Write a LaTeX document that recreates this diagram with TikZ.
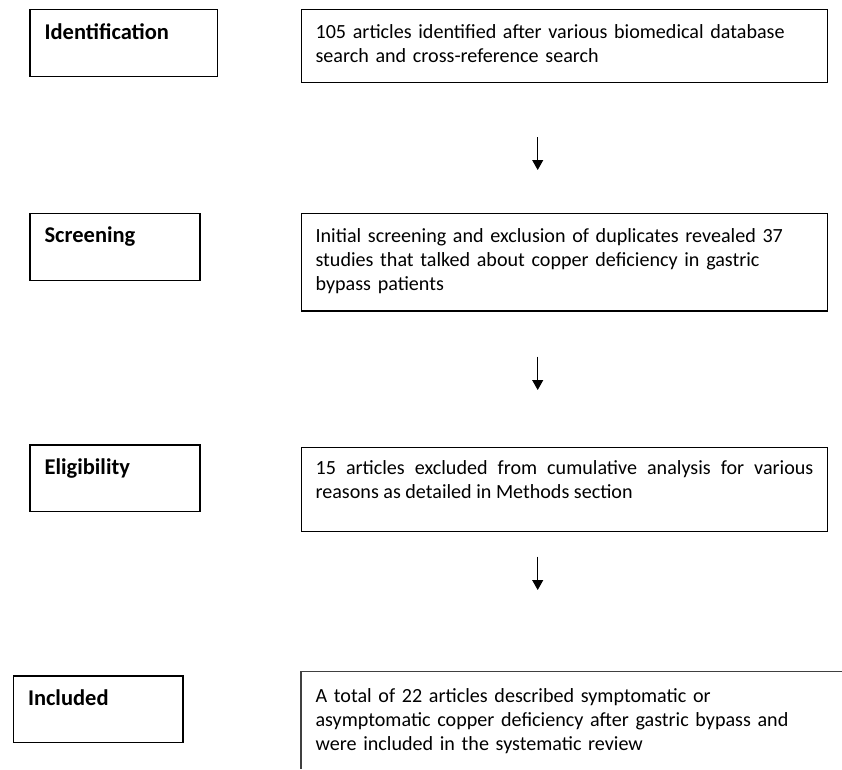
\documentclass[tikz,border=0pt]{standalone}
\usepackage{fontspec}
\setmainfont{Carlito}
\usetikzlibrary{arrows.meta}

\begin{document}
\begin{tikzpicture}
	 [x=1pt,y=-1pt,
	  stage/.style={draw,line width=1.2pt,anchor=north west,inner xsep=14.7pt,inner ysep=0pt,
	    align=left,font=\fontsize{22.5}{24}\selectfont\bfseries,text height=29.5pt,text depth=37.3pt},
	  info/.style={draw,line width=1.2pt,anchor=north west,inner xsep=14pt,inner ysep=0pt,
	    text width=497.7pt,align=left,font=\fontsize{20.1}{24}\selectfont},
	  flow/.style={line width=1pt,-{Triangle[width=11pt,length=10pt]}}]

	  \useasboundingbox (0,0) rectangle (842,769);

	  % stage labels
	  \node[stage,text width=158pt] (s1) at (29.3,9) {Identification};
	  \node[stage,text width=140.6pt] (s2) at (29.3,212.7) {Screening};
	  \node[stage,text width=140.6pt] (s3) at (29.3,444.3) {Eligibility};
	  \node[stage,text width=140.2pt] (s4) at (12.7,675.3) {Included};

	  % counts
	  \node[info,text height=29.3pt,text depth=43.4pt] (t1) at (301,9)
	    {105 articles identified after various biomedical database\\
	     search and cross-reference search};
	  \node[info,text height=29pt,text depth=68.6pt] (t2) at (301,212.7)
	    {Initial screening and exclusion of duplicates revealed 37\\
	     studies that talked about copper deficiency in gastric\\
	     bypass patients};
	  \node[info,align=justify,text height=27.6pt,text depth=56.7pt] (t3) at (301,446.7)
	    {15 articles excluded from cumulative analysis for various\linebreak
	     reasons as detailed in Methods section};
	  \node[info,draw=none,anchor=base west] (t4) at (301,702)
	    {A total of 22 articles described symptomatic or\\
	     asymptomatic copper deficiency after gastric bypass and\\
	     were included in the systematic review};
	  \draw[line width=1.2pt,black!75] (842,671.3) -| (301,769);

	  \coordinate (a1) at (537.7,137);
	  \coordinate (b1) at (537.7,170);
	  \coordinate (a2) at (537.7,356.7);
	  \coordinate (b2) at (537.7,390);
	  \coordinate (a3) at (537.7,556.7);
	  \coordinate (b3) at (537.7,590);

	\foreach \from/\to in {a1/b1,a2/b2,a3/b3}
    \draw[flow] (\from) -- (\to);

\end{tikzpicture}
\end{document}
